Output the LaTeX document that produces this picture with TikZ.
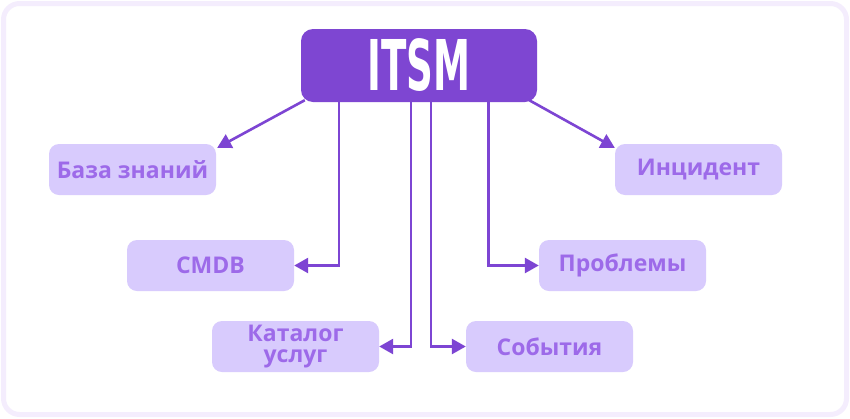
\documentclass[tikz,border=0pt]{standalone}
\usepackage{fontspec}
\setmainfont{Open Sans}
\newfontfamily\titlefont{DejaVu Sans Condensed}
\usetikzlibrary{calc,arrows.meta}
\definecolor{itsmc}{HTML}{7E46D2}
\definecolor{boxc}{HTML}{D8CBFD}
\definecolor{txtc}{HTML}{9D6AE9}
\definecolor{arrc}{HTML}{7D45D3}
\definecolor{framec}{HTML}{F4EDFD}
\tikzset{
  lbox/.style={rounded corners=10pt, fill=boxc, text=txtc, minimum width=167pt, minimum height=51pt, inner sep=0pt, align=center, font=\fontsize{23}{21}\selectfont\bfseries},
  topbox/.style={rounded corners=12pt, fill=itsmc, text=white, minimum width=236pt, minimum height=73pt, inner sep=0pt},
  arr/.style={draw=arrc, line width=2.6pt, -{Triangle[length=14pt,width=15pt]}}
}
\begin{document}
\begin{tikzpicture}[x=1pt,y=-1pt]
\useasboundingbox (0,0) rectangle (850,418);
\draw[framec, line width=5pt, fill=white, rounded corners=16pt] (3.5,3.5) rectangle (846.5,414.5);
\node[topbox] (itsm) at (419,65.5) {\scalebox{0.59}[1]{\titlefont\fontsize{70}{70}\selectfont\bfseries ITSM}};
\node[lbox] (base) at (132.5,169.5) {База знаний};
\node[lbox] (inc) at (698.5,169.5) {Инцидент};
\node[lbox] (cmdb) at (210.5,265.5) {CMDB};
\node[lbox] (prob) at (622.5,265.5) {Проблемы};
\node[lbox] (kat) at (295.5,346.5) {Каталог\\услуг};
\node[lbox] (sob) at (549.5,346.5) {События};
\draw[arr] ($(itsm.south west)+(4,-2)$) -- ($(base.north east)+(1,4)$);
\draw[arr] ($(itsm.south east)+(-8,-2)$) -- ($(inc.north west)+(0,4)$);
\draw[arr] ($(itsm.south west)+(38,0)$) |- (cmdb.east);
\draw[arr] ($(itsm.south)+(-8,0)$) |- (kat.east);
\draw[arr] ($(itsm.south)+(12,0)$) |- (sob.west);
\draw[arr] ($(itsm.south east)+(-49,0)$) |- (prob.west);
\end{tikzpicture}
\end{document}
